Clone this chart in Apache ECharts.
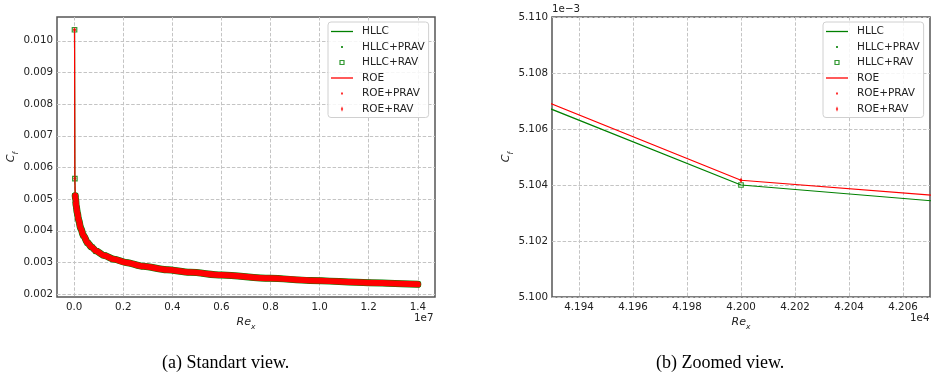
<!DOCTYPE html>
<html>
<head>
<meta charset="utf-8">
<script src="https://cdn.jsdelivr.net/npm/echarts@6/dist/echarts.min.js"></script>
<style>
  html, body { margin: 0; padding: 0; background: #fff; }
  #chart { width: 931px; height: 387px; }
</style>
</head>
<body>
<div id="chart"></div>
<script>
// Reynolds number along the plate
var reX = [14000, 28000, 42000, 56000, 84000, 126000, 182000, 266000, 378000, 546000,
  714000, 896000, 1218000, 1624000, 2100000, 2814000, 3766000, 4718000, 6006000,
  7980000, 9604000, 11984000, 14000000];
// skin friction, HLLC scheme
var cfHllc = [0.01035, 0.005644, 0.005104, 0.004992, 0.00478, 0.00457, 0.00434, 0.00408,
  0.00385, 0.00362, 0.00348, 0.00336, 0.00322, 0.00310, 0.00300, 0.00288, 0.00277,
  0.00269, 0.00260, 0.00250, 0.00243, 0.00236, 0.00231];
// skin friction, ROE scheme
var cfRoe = [0.01035, 0.005648, 0.00510417, 0.004998, 0.00478, 0.00457, 0.00434, 0.00408,
  0.00385, 0.00362, 0.00348, 0.00336, 0.00322, 0.00310, 0.00300, 0.00288, 0.00277,
  0.00269, 0.00260, 0.00250, 0.00243, 0.00236, 0.00231];

var names = ['HLLC', 'HLLC+PRAV', 'HLLC+RAV', 'ROE', 'ROE+PRAV', 'ROE+RAV'];

// tick positions
var xTicksA = [0, 2e6, 4e6, 6e6, 8e6, 10e6, 12e6, 14e6];
var yTicksA = [0.002, 0.003, 0.004, 0.005, 0.006, 0.007, 0.008, 0.009, 0.010];
var xTicksB = [41940, 41960, 41980, 42000, 42020, 42040, 42060];
var yTicksB = [0.0051, 0.005102, 0.005104, 0.005106, 0.005108, 0.00511];

var GREEN = '#008000';
var RED = '#ff0000';
var FONT = 'DejaVu Sans';

function pairs(xs, ys) {
  return xs.map(function (x, i) { return [x, ys[i]]; });
}
var hllc = pairs(reX, cfHllc);
var roe = pairs(reX, cfRoe);

var chart = echarts.init(document.getElementById('chart'));

var nameRich = {
  i: { fontFamily: FONT, fontStyle: 'italic', fontSize: 11, color: '#222', padding: [0, 0, 3, 0], verticalAlign: 'bottom' },
  s: { fontFamily: FONT, fontStyle: 'italic', fontSize: 7.5, color: '#222', verticalAlign: 'bottom' }
};
var gridLine = { show: true, lineStyle: { color: '#c4c4c4', type: [3.5, 1.8], width: 1 } };

function xAxis(idx, min, max, ticks, fmt) {
  return {
    type: 'value', gridIndex: idx, min: min, max: max,
    name: '{i|Re}{s|x}', nameLocation: 'middle', nameGap: 16,
    nameTextStyle: { rich: nameRich },
    axisLine: { show: false },
    axisTick: { show: false, customValues: ticks },
    axisLabel: { customValues: ticks, formatter: fmt, fontFamily: FONT, fontSize: 10.3, color: '#222', margin: 5 },
    splitLine: gridLine
  };
}
function yAxis(idx, min, max, ticks, fmt) {
  return {
    type: 'value', gridIndex: idx, min: min, max: max,
    name: '{i|C}{s|f}', nameLocation: 'middle', nameGap: 35, nameRotate: 90,
    nameTextStyle: { rich: nameRich },
    axisLine: { show: false },
    axisTick: { show: false, customValues: ticks },
    axisLabel: { customValues: ticks, formatter: fmt, fontFamily: FONT, fontSize: 10.3, color: '#222', margin: 4 },
    splitLine: gridLine
  };
}

function seriesFor(idx, band) {
  var s = [
    { name: 'HLLC', type: 'line', data: hllc, showSymbol: false, clip: true,
      lineStyle: { color: GREEN, width: 1.2 }, itemStyle: { color: GREEN } },
    { name: 'HLLC+PRAV', type: 'scatter', data: hllc, symbol: 'circle', symbolSize: 2.5,
      itemStyle: { color: GREEN } },
    { name: 'HLLC+RAV', type: 'scatter', data: hllc, symbol: 'rect', symbolSize: 4.5,
      itemStyle: { color: '#fff', borderColor: GREEN, borderWidth: 1.2 } },
    { name: 'ROE', type: 'line', data: roe, showSymbol: false, clip: true,
      lineStyle: { color: RED, width: 1.2 }, itemStyle: { color: RED } },
    { name: 'ROE+PRAV', type: 'scatter', data: roe, symbol: 'circle', symbolSize: 2.5,
      itemStyle: { color: RED } },
    { name: 'ROE+RAV', type: 'scatter', data: roe, symbol: 'diamond', symbolSize: [3, 5.5],
      itemStyle: { color: RED } }
  ];
  if (band) {
    // dense markers from Re = 42000 onward merge into a solid band
    s.splice(3, 0, { name: 'HLLC+RAV', type: 'line', data: hllc.slice(2), showSymbol: false,
      smooth: 0.3, smoothMonotone: 'x',
      lineStyle: { color: GREEN, width: 7, cap: 'round', join: 'round' }, itemStyle: { color: GREEN } });
    s.push({ name: 'ROE+RAV', type: 'line', data: roe.slice(2), showSymbol: false,
      smooth: 0.3, smoothMonotone: 'x',
      lineStyle: { color: RED, width: 6, cap: 'round', join: 'round' }, itemStyle: { color: RED } });
  }
  s.forEach(function (o) { o.xAxisIndex = idx; o.yAxisIndex = idx; o.silent = true; o.animation = false; });
  return s;
}

function legendFor(left) {
  return {
    left: left, top: 22, orient: 'vertical',
    itemWidth: 22, itemHeight: 6, itemGap: 4.5,
    padding: [4, 4, 3, 3],
    backgroundColor: 'rgba(255,255,255,0.85)',
    borderColor: '#d0d0d0', borderWidth: 1, borderRadius: 3,
    textStyle: { fontFamily: FONT, fontSize: 10.5, color: '#222', padding: [0, 0, 0, 4] },
    data: [
      { name: 'HLLC', icon: 'path://M0,0 L22,0 L22,1.3 L0,1.3 Z', itemStyle: { color: GREEN, borderWidth: 0 } },
      { name: 'HLLC+PRAV', icon: 'path://M0,0 M6,6 M2,2 L4,2 L4,4 L2,4 Z', itemStyle: { color: GREEN, borderWidth: 0 } },
      { name: 'HLLC+RAV', icon: 'path://M0,0 M6,6 M1,1 L5,1 L5,5 L1,5 Z', itemStyle: { color: '#fff', borderColor: GREEN, borderWidth: 1.2 } },
      { name: 'ROE', icon: 'path://M0,0 L22,0 L22,1.3 L0,1.3 Z', itemStyle: { color: RED, borderWidth: 0 } },
      { name: 'ROE+PRAV', icon: 'path://M0,0 M6,6 M2,2 L4,2 L4,4 L2,4 Z', itemStyle: { color: RED, borderWidth: 0 } },
      { name: 'ROE+RAV', icon: 'path://M0,0 M6,6 M3,0.3 L4.2,3 L3,5.7 L1.8,3 Z', itemStyle: { color: RED, borderWidth: 0 } }
    ]
  };
}

var txt = { fontFamily: FONT, fontSize: 10.3, fill: '#222' };

chart.setOption({
  animation: false,
  grid: [
    { left: 57, top: 17, width: 378, height: 280, show: true, borderColor: '#555', borderWidth: 1.5, backgroundColor: 'transparent' },
    { left: 552, top: 17, width: 378, height: 280, show: true, borderColor: '#555', borderWidth: 1.5, backgroundColor: 'transparent' }
  ],
  xAxis: [
    xAxis(0, -700000, 14700000, xTicksA, function (v) { return (v / 1e7).toFixed(1); }),
    xAxis(1, 41930, 42070, xTicksB, function (v) { return (v / 1e4).toFixed(3); })
  ],
  yAxis: [
    yAxis(0, 0.001908, 0.010752, yTicksA, function (v) { return v.toFixed(3); }),
    yAxis(1, 0.0051, 0.00511, yTicksB, function (v) { return (v * 1e3).toFixed(3); })
  ],
  legend: [legendFor(328), legendFor(823)],
  series: seriesFor(0, true).concat(seriesFor(1, false)),
  graphic: [
    { type: 'text', left: 414, top: 313, style: Object.assign({ text: '1e7' }, txt) },
    { type: 'text', left: 552, top: 4, style: Object.assign({ text: '1e\u22123' }, txt) },
    { type: 'text', left: 910, top: 313, style: Object.assign({ text: '1e4' }, txt) },
    { type: 'text', left: 162, top: 354, style: { text: '(a) Standart view.', fontFamily: 'Liberation Serif', fontSize: 18, fill: '#000' } },
    { type: 'text', left: 656, top: 354, style: { text: '(b) Zoomed view.', fontFamily: 'Liberation Serif', fontSize: 18, fill: '#000' } }
  ]
});
</script>
</body>
</html>
